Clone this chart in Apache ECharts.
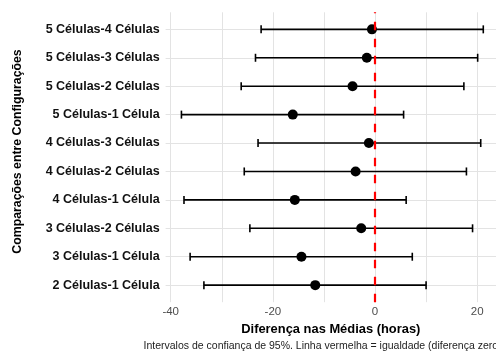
<!DOCTYPE html>
<html>
<head>
<meta charset="utf-8">
<script src="https://cdn.jsdelivr.net/npm/echarts@6/dist/echarts.min.js"></script>
<style>
  html, body { margin: 0; padding: 0; background: #ffffff; }
  #chart { width: 496px; height: 354px; }
</style>
</head>
<body>
<div id="chart"></div>
<script>
// Pairwise comparisons (bottom to top) with mean differences and 95% CIs, in hours
const comparisons = [
  '2 Células-1 Célula', '3 Células-1 Célula', '3 Células-2 Células',
  '4 Células-1 Célula', '4 Células-2 Células', '4 Células-3 Células',
  '5 Células-1 Célula', '5 Células-2 Células', '5 Células-3 Células',
  '5 Células-4 Células'
];
const meanDiff = [-11.7, -14.4, -2.7, -15.7, -3.8, -1.2, -16.1, -4.4, -1.6, -0.6];
const lowerCI  = [-33.5, -36.2, -24.5, -37.4, -25.6, -22.9, -37.9, -26.2, -23.4, -22.3];
const upperCI  = [10.0, 7.3, 19.1, 6.1, 17.9, 20.7, 5.6, 17.4, 20.1, 21.2];

// Axis ticks
const xTickLabels = [-40, -20, 0, 20];
const xGridValues = [-40, -30, -20, -10, 0, 10, 20];
const rowPositions = comparisons.map((_, i) => i + 1);

const FONT = '"Liberation Sans", Arial, Helvetica, sans-serif';
const GRID_COLOR = '#e3e3e3';

const chart = echarts.init(document.getElementById('chart'), null, { renderer: 'canvas' });

const pointData = meanDiff.map((v, i) => [v, i + 1]);
const barData = lowerCI.map((lo, i) => [lo, upperCI[i], i + 1]);

chart.setOption({
  animation: false,
  backgroundColor: '#ffffff',
  grid: {
    left: 165.6, right: 0, top: 12.3, bottom: 51.8,
    containLabel: false,
    outerBoundsMode: 'none'
  },
  xAxis: {
    type: 'value',
    min: -41, max: 23.69,
    axisLine: { show: false },
    axisTick: { show: false, customValues: xGridValues },
    splitLine: { show: true, lineStyle: { color: GRID_COLOR, width: 1 } },
    axisLabel: {
      customValues: xTickLabels,
      color: '#4d4d4d', fontFamily: FONT, fontSize: 11.5, margin: 4
    },
    name: 'Diferença nas Médias (horas)',
    nameLocation: 'middle',
    nameGap: 20.5,
    nameTextStyle: { color: '#000000', fontFamily: FONT, fontSize: 12.9, fontWeight: 'bold' }
  },
  yAxis: {
    type: 'value',
    min: 0.4, max: 10.6,
    axisLine: { show: false },
    axisTick: { show: false, customValues: rowPositions },
    splitLine: { show: true, lineStyle: { color: GRID_COLOR, width: 1 } },
    axisLabel: {
      customValues: rowPositions,
      formatter: v => comparisons[Math.round(v) - 1],
      color: '#111111', fontFamily: FONT, fontSize: 12.5, fontWeight: 'bold', margin: 6
    }
  },
  graphic: [
    {
      type: 'text',
      x: 18, y: 151.5,
      rotation: Math.PI / 2,
      style: {
        text: 'Comparações entre Configurações',
        fill: '#000000', font: 'bold 12.3px ' + FONT,
        align: 'center', verticalAlign: 'middle'
      }
    },
    {
      type: 'text',
      x: 143.5, y: 346,
      style: {
        text: 'Intervalos de confiança de 95%. Linha vermelha = igualdade (diferença zero)',
        fill: '#222222', font: '10.5px ' + FONT,
        align: 'left', verticalAlign: 'middle'
      }
    }
  ],
  series: [
    {
      // confidence interval whiskers with end caps
      type: 'custom',
      data: barData,
      encode: { x: [0, 1], y: 2 },
      z: 2,
      renderItem: (params, api) => {
        const y = api.value(2);
        const p0 = api.coord([api.value(0), y]);
        const p1 = api.coord([api.value(1), y]);
        const cap = 4;
        const style = { stroke: '#000000', lineWidth: 1.6 };
        return {
          type: 'group',
          children: [
            { type: 'line', shape: { x1: p0[0], y1: p0[1], x2: p1[0], y2: p1[1] }, style },
            { type: 'line', shape: { x1: p0[0], y1: p0[1] - cap, x2: p0[0], y2: p0[1] + cap }, style },
            { type: 'line', shape: { x1: p1[0], y1: p1[1] - cap, x2: p1[0], y2: p1[1] + cap }, style }
          ]
        };
      }
    },
    {
      // mean difference points and the zero-difference reference line
      type: 'scatter',
      data: pointData,
      symbol: 'circle',
      symbolSize: 10,
      z: 3,
      itemStyle: { color: '#000000', opacity: 1 },
      markLine: {
        silent: true,
        symbol: ['none', 'none'],
        label: { show: false },
        lineStyle: { color: '#ff0000', type: [8.5, 8.5], width: 2.2, opacity: 1 },
        data: [{ xAxis: 0 }]
      }
    }
  ]
});
</script>
</body>
</html>
